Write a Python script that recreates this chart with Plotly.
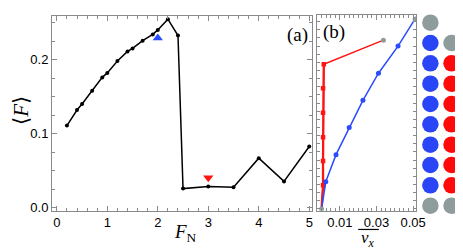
import plotly.graph_objects as go

# ---------------- data ----------------
# panel (a)
FN = [0.2, 0.4, 0.5, 0.7, 0.9, 1.0, 1.2, 1.4, 1.5, 1.7, 1.9, 2.0, 2.2, 2.4,
      2.5, 3.0, 3.5, 4.0, 4.5, 5.0]
F_mean = [0.111, 0.132, 0.140, 0.158, 0.176, 0.182, 0.198, 0.211, 0.215,
          0.2255, 0.234, 0.240, 0.2545, 0.2325, 0.026, 0.0287, 0.0277,
          0.067, 0.0357, 0.0828]
up_marker_x, up_marker_y = [2.0], [0.229]
down_marker_x, down_marker_y = [3.0], [0.0405]

# panel (b)
blue_vx = [0.0, 0.0023, 0.0079, 0.0151, 0.0226, 0.0311, 0.0418, 0.0511]
blue_z = [0, 1, 2, 3, 4, 5, 6, 7]
red_vx = [0.0, 0.0008, 0.0008, 0.0008, 0.0008, 0.0008, 0.0012, 0.0338]
red_z = [0, 0.877, 1.768, 2.645, 3.547, 4.45, 5.33, 6.218]

# particle columns (row 0 = top)
col0_rows = list(range(10))
col0_kind = ["gray"] + ["blue"] * 8 + ["gray"]
col1_rows = list(range(1, 10))
col1_kind = ["gray"] + ["red"] * 7 + ["gray"]

# ---------------- style ----------------
W, H = 463, 249
BLUE = "#2b4bff"
RED = "#ff1414"
GRAY = "#8d9c9c"
CIRC = {"gray": "#8f9c9c", "blue": "#2a45f5", "red": "#ff0a0a"}
FRAME = "#8a8a8a"
SANS = "Liberation Sans"
SERIF = "Liberation Serif"


def px_x(p):
    return p / W


def px_y(p):
    return (H - p) / H


fig = go.Figure()

# (a)
fig.add_trace(go.Scatter(x=FN, y=F_mean, mode="lines+markers",
                         line=dict(color="black", width=1.5),
                         marker=dict(color="black", size=4),
                         xaxis="x", yaxis="y", showlegend=False))
fig.add_trace(go.Scatter(x=up_marker_x, y=up_marker_y, mode="markers",
                         marker=dict(color=BLUE, size=9, symbol="triangle-up"),
                         xaxis="x", yaxis="y", showlegend=False))
fig.add_trace(go.Scatter(x=down_marker_x, y=down_marker_y, mode="markers",
                         marker=dict(color=RED, size=9, symbol="triangle-down"),
                         xaxis="x", yaxis="y", showlegend=False))

# (b)
fig.add_trace(go.Scatter(x=red_vx, y=red_z, mode="lines",
                         line=dict(color=RED, width=1.5),
                         xaxis="x2", yaxis="y2", showlegend=False))
fig.add_trace(go.Scatter(x=red_vx[:7], y=red_z[:7], mode="lines",
                         line=dict(color=RED, width=2.3),
                         xaxis="x2", yaxis="y2", showlegend=False))
fig.add_trace(go.Scatter(x=red_vx[1:-1], y=red_z[1:-1], mode="markers",
                         marker=dict(color=RED, size=4.5, symbol="square"),
                         xaxis="x2", yaxis="y2", showlegend=False))
fig.add_trace(go.Scatter(x=blue_vx, y=blue_z, mode="lines",
                         line=dict(color=BLUE, width=1.5),
                         xaxis="x2", yaxis="y2", showlegend=False))
fig.add_trace(go.Scatter(x=blue_vx[1:-1], y=blue_z[1:-1], mode="markers",
                         marker=dict(color=BLUE, size=5),
                         xaxis="x2", yaxis="y2", showlegend=False))
fig.add_trace(go.Scatter(x=[blue_vx[0], blue_vx[-1], red_vx[-1]],
                         y=[blue_z[0], blue_z[-1], red_z[-1]], mode="markers",
                         marker=dict(color=GRAY, size=5),
                         xaxis="x2", yaxis="y2", showlegend=False))

# particle columns
fig.add_trace(go.Scatter(x=[0] * len(col0_rows), y=col0_rows, mode="markers",
                         marker=dict(color=[CIRC[k] for k in col0_kind], size=16.5),
                         xaxis="x3", yaxis="y3", showlegend=False))
fig.add_trace(go.Scatter(x=[1] * len(col1_rows), y=col1_rows, mode="markers",
                         marker=dict(color=[CIRC[k] for k in col1_kind], size=16.5),
                         xaxis="x3", yaxis="y3", showlegend=False))

tickfont = dict(family=SANS, size=13, color="black")
common = dict(showline=True, linecolor=FRAME, linewidth=1, mirror="allticks",
              ticks="inside", tickcolor=FRAME, showgrid=False, zeroline=False,
              tickfont=tickfont)

fig.update_layout(
    width=W, height=H, margin=dict(l=0, r=0, t=0, b=0),
    paper_bgcolor="white", plot_bgcolor="white",
    xaxis=dict(domain=[px_x(45), px_x(311)], range=[-0.095, 5.06],
               tickvals=[0, 1, 2, 3, 4, 5], ticklen=5,
               minor=dict(dtick=0.2, tick0=0, ticks="inside", ticklen=3,
                          tickcolor=FRAME, showgrid=False),
               anchor="y", **common),
    yaxis=dict(domain=[px_y(207), px_y(8)], range=[-0.004, 0.259],
               tickvals=[0.0, 0.1, 0.2], ticktext=["0.0", "0.1", "0.2"],
               ticklen=5,
               minor=dict(dtick=0.025, tick0=0, ticks="inside", ticklen=3,
                          tickcolor=FRAME, showgrid=False),
               anchor="x", **common),
    xaxis2=dict(domain=[px_x(316), px_x(417)], range=[-0.0024, 0.0516],
                tickvals=[0.01, 0.03, 0.05], ticktext=["0.01", "0.03", "0.05"],
                ticklen=5,
                minor=dict(dtick=0.0025, tick0=0, ticks="inside", ticklen=3,
                           tickcolor=FRAME, showgrid=False),
                anchor="y2", **common),
    yaxis2=dict(domain=[px_y(207), px_y(7)], range=[-0.07, 7.15],
                tickvals=[], showticklabels=False,
                minor=dict(dtick=0.3, tick0=0, ticks="inside", ticklen=3,
                           tickcolor=FRAME, showgrid=False),
                anchor="x2", **common),
    xaxis3=dict(domain=[px_x(420), 1.0], range=[-0.542, 1.449],
                visible=False, anchor="y3"),
    yaxis3=dict(domain=[0, 1], range=[11.28, -0.723], visible=False,
                anchor="x3"),
)

fig.add_annotation(x=px_x(13), y=px_y(104), xref="paper", yref="paper",
                   text="⟨<i>F</i>⟩", textangle=-90, showarrow=False,
                   font=dict(family=SERIF, size=21, color="black"),
                   xanchor="center", yanchor="middle")
fig.add_annotation(x=px_x(181), y=px_y(230), xref="paper", yref="paper",
                   text="<i>F</i><sub>N</sub>", showarrow=False,
                   font=dict(family=SERIF, size=19, color="black"),
                   xanchor="center", yanchor="middle")
fig.add_annotation(x=px_x(296), y=px_y(28), xref="paper", yref="paper",
                   text="(a)", showarrow=False,
                   font=dict(family=SERIF, size=19, color="black"),
                   xanchor="center", yanchor="middle")
fig.add_annotation(x=px_x(333), y=px_y(25), xref="paper", yref="paper",
                   text="(b)", showarrow=False,
                   font=dict(family=SERIF, size=19, color="black"),
                   xanchor="center", yanchor="middle")
fig.add_annotation(x=px_x(368), y=px_y(236), xref="paper", yref="paper",
                   text="<i>v</i><sub><i>x</i></sub>", showarrow=False,
                   font=dict(family=SERIF, size=17, color="black"),
                   xanchor="center", yanchor="middle")
fig.add_shape(type="line", xref="paper", yref="paper",
              x0=px_x(358), x1=px_x(379), y0=px_y(226), y1=px_y(226),
              line=dict(color="black", width=1.2))

fig.write_html("out.html")
